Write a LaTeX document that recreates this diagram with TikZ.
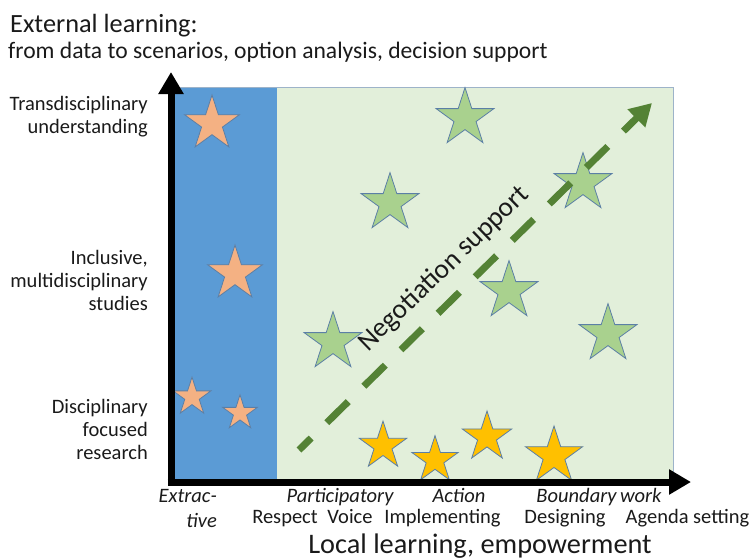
\documentclass[tikz,border=0pt]{standalone}
\usepackage{fontspec}
\setmainfont{Carlito}
\usetikzlibrary{shapes.geometric,arrows.meta}
\definecolor{panelblue}{HTML}{5B9BD5}
\definecolor{panelgreen}{HTML}{E2EFDA}
\definecolor{paneledge}{HTML}{9DB3C9}
\definecolor{starorange}{HTML}{F4B183}
\definecolor{stargreen}{HTML}{A9D18E}
\definecolor{staryellow}{HTML}{FFC000}
\definecolor{staredge}{HTML}{5B7FA6}
\definecolor{negogreen}{HTML}{548235}
\definecolor{ink}{HTML}{1A1A1A}
\begin{document}
\begin{tikzpicture}[x=1pt,y=-1pt,
  starnode/.style={star, star points=5, star point ratio=2.618, inner sep=0pt,
    minimum size=#1, draw=staredge, line width=0.8pt},
  ostar/.style={starnode=#1, fill=starorange},
  gstar/.style={starnode=#1, fill=stargreen},
  ystar/.style={starnode=#1, fill=staryellow},
  axisline/.style={line width=7pt, draw=black, -{Triangle[length=22pt,width=24pt]}},
  lbl/.style={inner sep=0pt, text=ink, font=\fontsize{20.5}{23.5}\selectfont},
  itlbl/.style={inner sep=0pt, text=ink, font=\fontsize{20.5}{23.5}\selectfont\itshape},
]
\useasboundingbox (0,0) rectangle (754,557);

% panels
\fill[panelgreen, draw=paneledge, line width=0.8pt] (175,87.5) rectangle (673,479);
\fill[panelblue] (175,87.5) rectangle (277,479);

% stars in the extractive band
\node[ostar=57.4] (o1) at (212,123.7) {};
\node[ostar=57.4] (o2) at (235,273.7) {};
\node[ostar=39.8] (o3) at (192,397) {};
\node[ostar=36.4] (o4) at (240,413) {};

% stars in the participatory area
\node[gstar=60.8] (g1) at (465,118) {};
\node[gstar=60.8] (g2) at (390,203) {};
\node[gstar=60.8] (g3) at (333,342) {};
\node[gstar=60.8] (g4) at (509,291) {};
\node[gstar=60.8] (g5) at (583,183) {};
\node[gstar=60.8] (g6) at (608,334) {};

% stars along the bottom
\node[ystar=49.8] (y1) at (383,446) {};
\node[ystar=48.6] (y2) at (435,460) {};
\node[ystar=52] (y3) at (487,437) {};
\node[ystar=60] (y4) at (554,456) {};

% negotiation support arrow
\coordinate (nstart) at (299,450);
\coordinate (nend) at (652,103);
\draw[negogreen, line width=7pt, dash pattern=on 30pt off 22pt, dash phase=13pt,
  -{Triangle[length=22pt,width=24pt]}] (nstart) -- (nend);
\node[inner sep=0pt, text=ink, rotate=44, font=\fontsize{27.5}{32}\selectfont]
  (nego) at (444,269) {Negotiation support};

% axes
\coordinate (origin) at (171,485.5);
\coordinate (ytop) at (171,72);
\coordinate (xleft) at (167.5,482);
\coordinate (xright) at (691,482);
\draw[axisline] (origin) -- (ytop);
\draw[axisline] (xleft) -- (xright);

% vertical axis title
\node[inner sep=0pt, text=ink, anchor=base west, font=\fontsize{26.3}{30}\selectfont]
  (ytitle) at (10,32) {External learning:};
\node[inner sep=0pt, text=ink, anchor=base west, font=\fontsize{23.6}{28}\selectfont]
  (ysub) at (8,58) {from data to scenarios, option analysis, decision support};

% vertical axis levels
\node[lbl, anchor=base east] (t1) at (148,110) {Transdisciplinary};
\node[lbl, anchor=base east] (t2) at (148,133) {understanding};
\node[lbl, anchor=base east] (m1) at (148,264) {Inclusive,};
\node[lbl, anchor=base east] (m2) at (148,287) {multidisciplinary};
\node[lbl, anchor=base east] (m3) at (148,310) {studies};
\node[lbl, anchor=base east] (d1) at (148,413) {Disciplinary};
\node[lbl, anchor=base east] (d2) at (148,436) {focused};
\node[lbl, anchor=base east] (d3) at (148,459.5) {research};

% horizontal axis levels
\node[itlbl, anchor=base east] (e1) at (217,502) {Extrac-};
\node[itlbl, anchor=base east] (e2) at (217,527) {tive};
\node[itlbl, anchor=base] (pa) at (340,502) {Participatory};
\node[itlbl, anchor=base] (ac) at (459,502) {Action};
\node[itlbl, anchor=base] (bw) at (599,502) {Boundary\,work};
\node[lbl, anchor=base] (re) at (285,523) {Respect};
\node[lbl, anchor=base] (vo) at (350,523) {Voice};
\node[lbl, anchor=base] (im) at (442.5,523) {Implementing};
\node[lbl, anchor=base] (de) at (565,523) {Designing};
\node[lbl, anchor=base] (ag) at (687.5,523) {Agenda setting};

% horizontal axis title
\node[inner sep=0pt, text=ink, anchor=base, font=\fontsize{28.3}{33}\selectfont]
  (xtitle) at (480,553) {Local learning, empowerment};
\end{tikzpicture}
\end{document}
